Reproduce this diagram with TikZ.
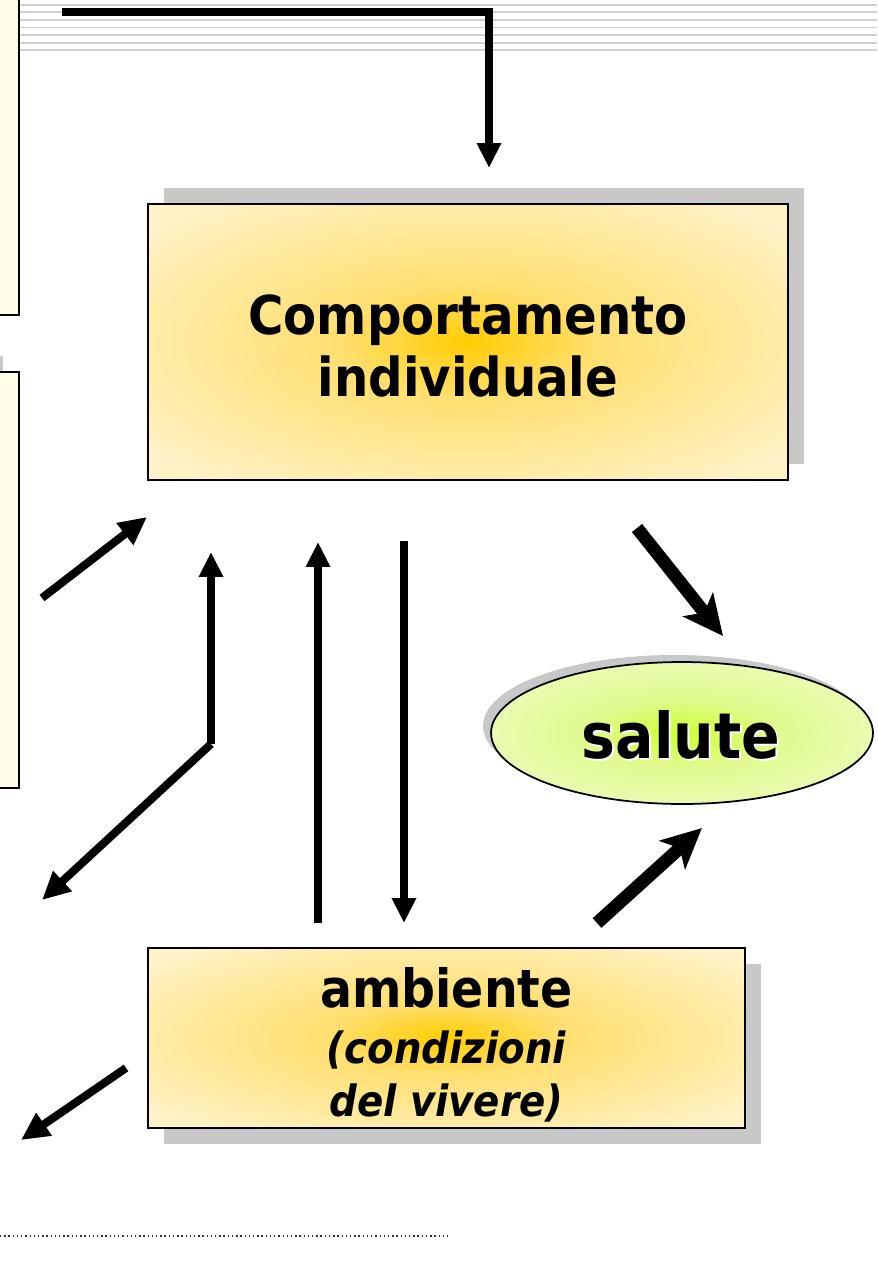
\documentclass[tikz,border=0pt]{standalone}
\usepackage{fontspec}
\setmainfont{DejaVu Sans Condensed}
\usetikzlibrary{arrows.meta,shapes.geometric,shadows}
\definecolor{boxcore}{HTML}{FFCC00}
\definecolor{boxmid}{HTML}{FFDF70}
\definecolor{boxedge}{HTML}{FFF2C6}
\definecolor{salcore}{HTML}{CCFF33}
\definecolor{salmid}{HTML}{E0FA8E}
\definecolor{saledge}{HTML}{F0FCC8}
\definecolor{shadowgray}{HTML}{C8C8C8}
\definecolor{leftcream}{HTML}{FFFDE8}
\definecolor{stripegray}{HTML}{D0D0D0}
\pgfdeclareradialshading{boxglow}{\pgfpoint{0bp}{0bp}}{color(0bp)=(boxcore); color(10bp)=(boxmid); color(32bp)=(boxedge); color(50bp)=(boxedge)}
\pgfdeclareradialshading{salglow}{\pgfpoint{0bp}{0bp}}{color(0bp)=(salcore); color(12bp)=(salmid); color(34bp)=(saledge); color(50bp)=(saledge)}
\tikzset{
  glowbox/.style={draw=black, line width=1pt, shading=boxglow, inner sep=0pt},
  boxtext/.style={align=center, inner sep=0pt},
  leftbox/.style={fill=leftcream, draw=black, line width=1.1pt},
  stripe/.style={draw=stripegray, line width=1.1pt},
  thinarrow/.style={line width=4pt, -{Triangle[length=0.5cm,width=0.46cm]}},
  diagarrow/.style={line width=4.6pt, -{Triangle[length=0.56cm,width=0.52cm]}},
  bigarrow/.style={line width=7.4pt, -{Stealth[length=0.8cm,width=0.76cm,inset=0.2cm]}}
}
\begin{document}
\begin{tikzpicture}[x=0.02cm, y=-0.02cm]
  \useasboundingbox (0,0) rectangle (877,1263);
  \fill[white] (0,0) rectangle (877,1263);

  \foreach \y in {4.7,12.3,19.9,27.5,35.1,42.7,50.3}{
    \draw[stripe] (20,\y)--(877,\y);
  }
  \fill[shadowgray] (-40,356) rectangle (3,772);
  \filldraw[leftbox] (-40,-40) rectangle (19,315);
  \filldraw[leftbox] (-40,372) rectangle (19,788);

  \node[glowbox, minimum width=12.8cm, minimum height=5.52cm,
    drop shadow={shadow xshift=0.32cm, shadow yshift=0.32cm, fill=shadowgray, opacity=1}] (comp) at (468,342) {};
  \node[boxtext, font=\bfseries\fontsize{30.5}{35.5}\selectfont] (comptext) at (468,346) {Comportamento\\individuale};
  \node[glowbox, minimum width=11.94cm, minimum height=3.6cm,
    drop shadow={shadow xshift=0.32cm, shadow yshift=-0.32cm, fill=shadowgray, opacity=1}] (amb) at (446.5,1038) {};
  \node[boxtext, font=\bfseries\fontsize{24.5}{30}\selectfont] (ambtext) at (446.5,1045)
    {\fontsize{30}{30}\selectfont ambiente\\[2pt]
     \itshape\fontsize{24.5}{30}\selectfont (condizioni\\ \itshape del vivere)};
  \node[ellipse, draw=black, line width=1pt, shading=salglow, inner sep=0pt,
    minimum width=7.64cm, minimum height=2.84cm,
    drop shadow={shadow xshift=-0.16cm, shadow yshift=0.14cm, fill=shadowgray, opacity=1}] (sal) at (682,733) {};
  \node[white, font=\bfseries\fontsize{36}{40}\selectfont] (salw) at (683,737) {salute};
  \node[font=\bfseries\fontsize{36}{40}\selectfont] (saltext) at (681,735) {salute};

  \coordinate (topstart) at (62,12);
  \coordinate (toptip) at (489,168);
  \coordinate (a1s) at (42,598);   \coordinate (a1e) at (147,517);
  \coordinate (fork) at (211,744); \coordinate (a2e) at (211,552);
  \coordinate (a3e) at (42,900);
  \coordinate (upa) at (318,923);  \coordinate (upb) at (318,542);
  \coordinate (dna) at (404,541);  \coordinate (dnb) at (404,923);
  \coordinate (a6s) at (637,528);  \coordinate (a6e) at (723,636);
  \coordinate (a7s) at (597,923);  \coordinate (a7e) at (702,828);
  \coordinate (a8s) at (126,1068); \coordinate (a8e) at (21,1140);

  \draw[thinarrow, line width=4.4pt] (topstart) -| (toptip);
  \draw[diagarrow] (a1s) -- (a1e);
  \draw[thinarrow] (fork) -- (a2e);
  \draw[diagarrow] (fork) -- (a3e);
  \draw[thinarrow] (upa) -- (upb);
  \draw[thinarrow] (dna) -- (dnb);
  \draw[bigarrow] (a6s) -- (a6e);
  \draw[bigarrow] (a7s) -- (a7e);
  \draw[diagarrow] (a8s) -- (a8e);

  \draw[line width=0.8pt, dash pattern=on 0.8pt off 1.6pt, black!80] (0,1236) -- (450,1236);
\end{tikzpicture}
\end{document}
